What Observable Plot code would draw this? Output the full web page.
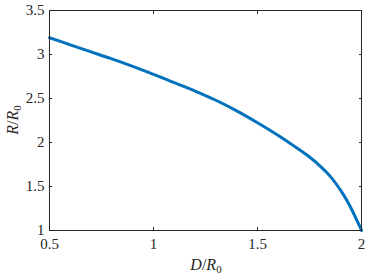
<!DOCTYPE html>
<html>
<head>
<meta charset="utf-8">
<script src="https://cdn.jsdelivr.net/npm/d3@7"></script>
<script src="https://cdn.jsdelivr.net/npm/@observablehq/plot@0.6"></script>
<style>
  html, body { margin: 0; padding: 0; background: #fff; }
  #chart { width: 366px; height: 277px; }
  #chart svg, #chart svg text { font-family: "Liberation Serif", "DejaVu Serif", serif !important; }
</style>
</head>
<body>
<div id="chart"></div>
<script>
const dValues = [0.5, 0.6, 0.7, 0.8, 0.9, 1.0, 1.1, 1.2, 1.3, 1.4, 1.5, 1.6, 1.7, 1.75, 1.8, 1.85, 1.9, 1.93, 1.96, 1.98, 1.99, 1.995, 2.0];
const rValues = [3.19, 3.11, 3.03, 2.95, 2.865, 2.775, 2.68, 2.585, 2.48, 2.36, 2.225, 2.08, 1.92, 1.835, 1.735, 1.615, 1.455, 1.34, 1.205, 1.105, 1.055, 1.03, 1.0];
const xTicks = [0.5, 1, 1.5, 2];
const yTicks = [1, 1.5, 2, 2.5, 3, 3.5];

const data = dValues.map((d, i) => ({d, r: rValues[i]}));
const axisColor = "#262626";
const serif = "'Liberation Serif', 'DejaVu Serif', serif";

const chart = Plot.plot({
  width: 366,
  height: 277,
  marginLeft: 49,
  marginRight: 5,
  marginTop: 10,
  marginBottom: 47,
  style: {fontFamily: serif, fontSize: "15px", color: axisColor, background: "#fff"},
  x: {domain: [0.5, 2]},
  y: {domain: [1, 3.5]},
  marks: [
    Plot.line(data, {x: "d", y: "r", stroke: "#0072BD", strokeWidth: 3, curve: "catmull-rom"}),
    Plot.frame({stroke: axisColor, strokeWidth: 1}),
    Plot.axisX(xTicks, {anchor: "bottom", tickSize: -3, tickPadding: 11, label: null, stroke: axisColor, fill: axisColor, tickFormat: d => String(d)}),
    Plot.axisX(xTicks, {anchor: "top", tickSize: -3, label: null, stroke: axisColor, tickFormat: () => ""}),
    Plot.axisY(yTicks, {anchor: "left", tickSize: -3, tickPadding: 8, label: null, stroke: axisColor, fill: axisColor, tickFormat: d => String(d)}),
    Plot.axisY(yTicks, {anchor: "right", tickSize: -3, label: null, stroke: axisColor, tickFormat: () => ""})
  ]
});

document.getElementById("chart").appendChild(chart);

const svg = d3.select(chart);
// x label D/R0
const xl = svg.append("text")
  .attr("x", 206).attr("y", 270)
  .attr("text-anchor", "middle")
  .attr("fill", axisColor)
  .style("font-family", serif)
  .style("font-size", "16px");
xl.append("tspan").style("font-style", "italic").text("D");
xl.append("tspan").text("/");
xl.append("tspan").style("font-style", "italic").text("R");
xl.append("tspan").attr("dy", 3).style("font-size", "11px").text("0");

// y label R/R0
const yl = svg.append("text")
  .attr("transform", "translate(18,120) rotate(-90)")
  .attr("text-anchor", "middle")
  .attr("fill", axisColor)
  .style("font-family", serif)
  .style("font-size", "16px");
yl.append("tspan").style("font-style", "italic").text("R");
yl.append("tspan").text("/");
yl.append("tspan").style("font-style", "italic").text("R");
yl.append("tspan").attr("dy", 3).style("font-size", "11px").text("0");
</script>
</body>
</html>
